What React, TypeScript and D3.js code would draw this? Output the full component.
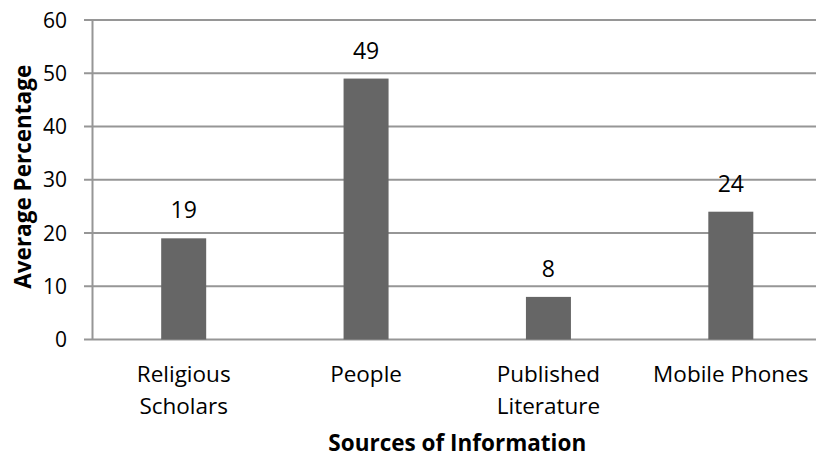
import React from "react";
import * as d3 from "d3";

const categories: string[][] = [
  ["Religious", "Scholars"],
  ["People"],
  ["Published", "Literature"],
  ["Mobile Phones"],
];
const values: number[] = [19, 49, 8, 24];
const yTicks: number[] = [0, 10, 20, 30, 40, 50, 60];

const W = 816;
const H = 457;
const left = 92.5;
const right = 822;
const top = 20;
const bottom = 339.5;
const font = "'Open Sans', 'Liberation Sans', sans-serif";

export default function App() {
  const keys = categories.map((c) => c.join(" "));
  const x = d3.scaleBand<string>().domain(keys).range([left, right]).paddingInner(0).paddingOuter(0);
  const y = d3.scaleLinear().domain([0, 60]).range([bottom, top]);
  const barW = 45;

  return (
    <div style={{ position: "absolute", left: 0, top: 0 }}>
      <svg width={W} height={H} style={{ display: "block", background: "#fff" }}>
        {yTicks.map((t) => (
          <g key={t}>
            <line x1={84} x2={W} y1={y(t)} y2={y(t)} stroke="#969696" strokeWidth={2} />
            <text x={67} y={y(t)} dy="0.36em" textAnchor="end" fontFamily={font} fontSize={21} fill="#000">
              {t}
            </text>
          </g>
        ))}
        <line x1={left} x2={left} y1={top} y2={bottom} stroke="#969696" strokeWidth={2} />
        {keys.map((k, i) => {
          const cx = (x(k) as number) + x.bandwidth() / 2;
          return (
            <g key={k}>
              <rect x={cx - barW / 2} y={y(values[i])} width={barW} height={y(0) - y(values[i])} fill="#666666" />
              <text x={cx} y={y(values[i]) - 20} textAnchor="middle" fontFamily={font} fontSize={23} fill="#000">
                {values[i]}
              </text>
              {categories[i].map((line, j) => (
                <text key={j} x={cx} y={382 + j * 32} textAnchor="middle" fontFamily={font} fontSize={22.5} fill="#000">
                  {line}
                </text>
              ))}
            </g>
          );
        })}
        <text x={(left + right) / 2} y={451} textAnchor="middle" fontFamily={font} fontSize={22.5} fontWeight="bold" fill="#000">
          Sources of Information
        </text>
        <text
          transform={`translate(31, ${(top + bottom) / 2 - 3}) rotate(-90)`}
          textAnchor="middle"
          fontFamily={font}
          fontSize={22.5}
          fontWeight="bold"
          fill="#000"
        >
          Average Percentage
        </text>
      </svg>
    </div>
  );
}
